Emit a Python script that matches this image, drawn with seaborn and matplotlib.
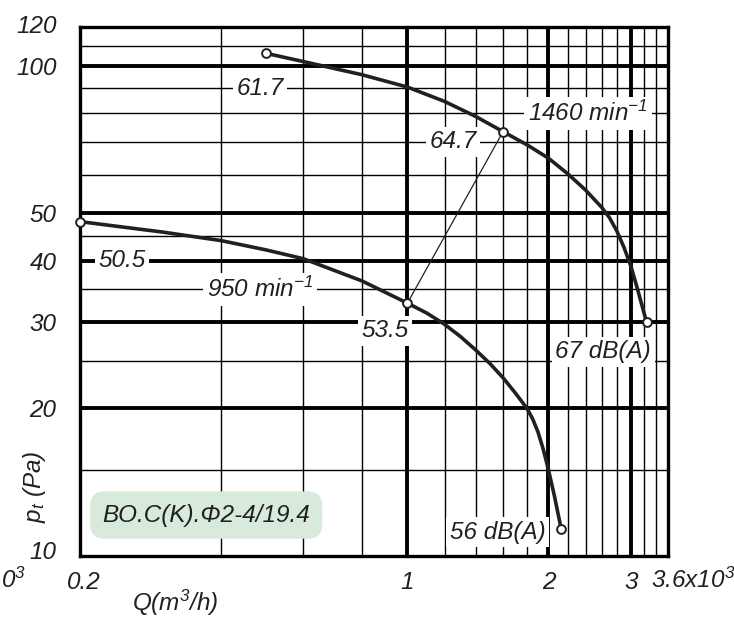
import numpy as np
import pandas as pd
import matplotlib
matplotlib.use("Agg")
import matplotlib.pyplot as plt
import seaborn as sns
from matplotlib.ticker import NullLocator
from matplotlib.transforms import ScaledTranslation

# ---- data ----
q_950 = [0.2, 0.3, 0.4, 0.5, 0.6, 0.8, 1.0, 1.1, 1.2, 1.3, 1.4, 1.5, 1.6, 1.7, 1.8,
         1.85, 1.9, 1.95, 2.0, 2.06, 2.13]
p_950 = [48.1, 45.8, 44.0, 42.1, 40.4, 36.4, 32.8, 31.3, 29.7, 28.0, 26.3, 24.7, 23.1, 21.5, 20.0,
         19.06, 17.9, 16.5, 15.0, 13.25, 11.34]
q_1460 = [0.5, 0.6, 0.8, 1.0, 1.2, 1.4, 1.6, 1.8, 2.0, 2.2, 2.4, 2.6, 2.7, 2.8, 2.9, 3.0, 3.1, 3.2, 3.24]
p_1460 = [106, 102, 95.9, 90.5, 84.6, 78.8, 73.4, 69.0, 64.8, 60.2, 55.8, 51.4, 49.0, 46.0, 42.6, 39.0,
          35.0, 31.3, 30.0]
link_q = [1.0, 1.6]
link_p = [32.8, 73.4]
marker_q = [0.2, 1.0, 2.13, 0.5, 1.6, 3.24]
marker_p = [48.1, 32.8, 11.34, 106, 73.4, 30.0]

x_ticks = [0.2, 1, 2, 3]
x_tick_labels = ["0.2", "1", "2", "3"]
y_ticks = [10, 20, 30, 40, 50, 100, 120]
y_tick_labels = ["10", "20", "30", "40", "50", "100", "120"]
x_grid_thin = [0.4, 0.6, 0.8, 1.2, 1.4, 1.6, 1.8, 2.2, 2.4, 2.6, 2.8, 3.2, 3.4]
x_grid_thick = [1, 2, 3]
y_grid_thin = [15, 25, 35, 45, 60, 70, 80, 90, 110]
y_grid_thick = [20, 30, 40, 50, 100]

sns.set_style("white")
FONT = ["Liberation Sans", "DejaVu Sans"]
INK = "#231f20"
plt.rcParams["font.family"] = FONT
plt.rcParams["font.style"] = "italic"
plt.rcParams["text.color"] = INK
plt.rcParams["xtick.color"] = INK
plt.rcParams["ytick.color"] = INK
plt.rcParams["mathtext.fontset"] = "custom"
plt.rcParams["mathtext.it"] = "Liberation Sans:italic"
plt.rcParams["mathtext.rm"] = "Liberation Sans:italic"
plt.rcParams["mathtext.default"] = "it"

FS = 17.5
fig = plt.figure(figsize=(7.34, 6.18), dpi=100)
ax = fig.add_axes([80 / 734, 1 - 556 / 618, 588 / 734, 529 / 618])
ax.set_xscale("log")
ax.set_yscale("log")
ax.set_xlim(0.2, 3.6)
ax.set_ylim(10, 120)

# grid
for v in x_grid_thin:
    ax.axvline(v, color="black", lw=1.0, zorder=1)
for v in x_grid_thick:
    ax.axvline(v, color="black", lw=2.8, zorder=1)
for v in y_grid_thin:
    ax.axhline(v, color="black", lw=1.0, zorder=1)
for v in y_grid_thick:
    ax.axhline(v, color="black", lw=2.8, zorder=1)

df950 = pd.DataFrame({"Q": q_950, "p": p_950})
df1460 = pd.DataFrame({"Q": q_1460, "p": p_1460})
dflink = pd.DataFrame({"Q": link_q, "p": link_p})
dfm = pd.DataFrame({"Q": marker_q, "p": marker_p})

sns.lineplot(data=dflink, x="Q", y="p", ax=ax, color=INK, lw=0.9, sort=False, zorder=4)
sns.lineplot(data=df950, x="Q", y="p", ax=ax, color=INK, lw=2.6, sort=False, zorder=5)
sns.lineplot(data=df1460, x="Q", y="p", ax=ax, color=INK, lw=2.6, sort=False, zorder=5)
sns.scatterplot(data=dfm, x="Q", y="p", ax=ax, s=40, facecolor="white", edgecolor=INK,
                linewidth=1.4, zorder=6, clip_on=False)

for s in ax.spines.values():
    s.set_linewidth(2.4)
    s.set_color("black")
    s.set_zorder(3)

ax.xaxis.set_minor_locator(NullLocator())
ax.yaxis.set_minor_locator(NullLocator())
ax.set_xticks(x_ticks, x_tick_labels, fontsize=FS)
ax.set_yticks(y_ticks, y_tick_labels, fontsize=FS)
ax.tick_params(axis="both", length=0)
ax.tick_params(axis="x", pad=11)
ax.tick_params(axis="y", pad=17)
ax.set_xlabel("")
ax.set_ylabel("")

# small pixel nudges of a few tick labels, as in the reference
def nudge(lbl, dx, dy):
    lbl.set_transform(lbl.get_transform() + ScaledTranslation(dx / 100, dy / 100, fig.dpi_scale_trans))

nudge(ax.get_xticklabels()[0], 4, 0)
nudge(ax.get_yticklabels()[0], 0, 6)
nudge(ax.get_yticklabels()[-1], 0, 3)

box = dict(facecolor="white", edgecolor="none", boxstyle="square,pad=0.15")
labels = [
    (0.484, 90.0, "61.7"),
    (1.25, 70.0, "64.7"),
    (2.43, 80.0, "1460 min$^{-1}$"),
    (0.246, 40.0, "50.5"),
    (0.484, 35.0, "950 min$^{-1}$"),
    (0.896, 28.8, "53.5"),
    (2.62, 26.1, "67 dB(A)"),
    (1.56, 11.19, "56 dB(A)"),
]
for x, y, t in labels:
    ax.text(x, y, t, fontsize=FS, ha="center", va="center", bbox=box, zorder=7)

ax.text(0.372, 12.12, "BO.C(K).Φ2-4/19.4", fontsize=FS, ha="center", va="center", zorder=7,
        bbox=dict(facecolor="#d8eadb", edgecolor="none", boxstyle="round,pad=0.5,rounding_size=0.6"))

fig.text(651 / 734, 1 - 580 / 618, "3.6x10$^3$", fontsize=FS, ha="left", va="center")
fig.text(1 / 734, 1 - 580 / 618, "0$^3$", fontsize=FS, ha="left", va="center")
fig.text(175 / 734, 1 - 603 / 618, "Q(m$^3$/h)", fontsize=FS, ha="center", va="center")
fig.text(35 / 734, 1 - 487 / 618, "$p_t$ (Pa)", fontsize=FS, ha="center", va="center", rotation=90)

fig.savefig("out.png", dpi=100)
